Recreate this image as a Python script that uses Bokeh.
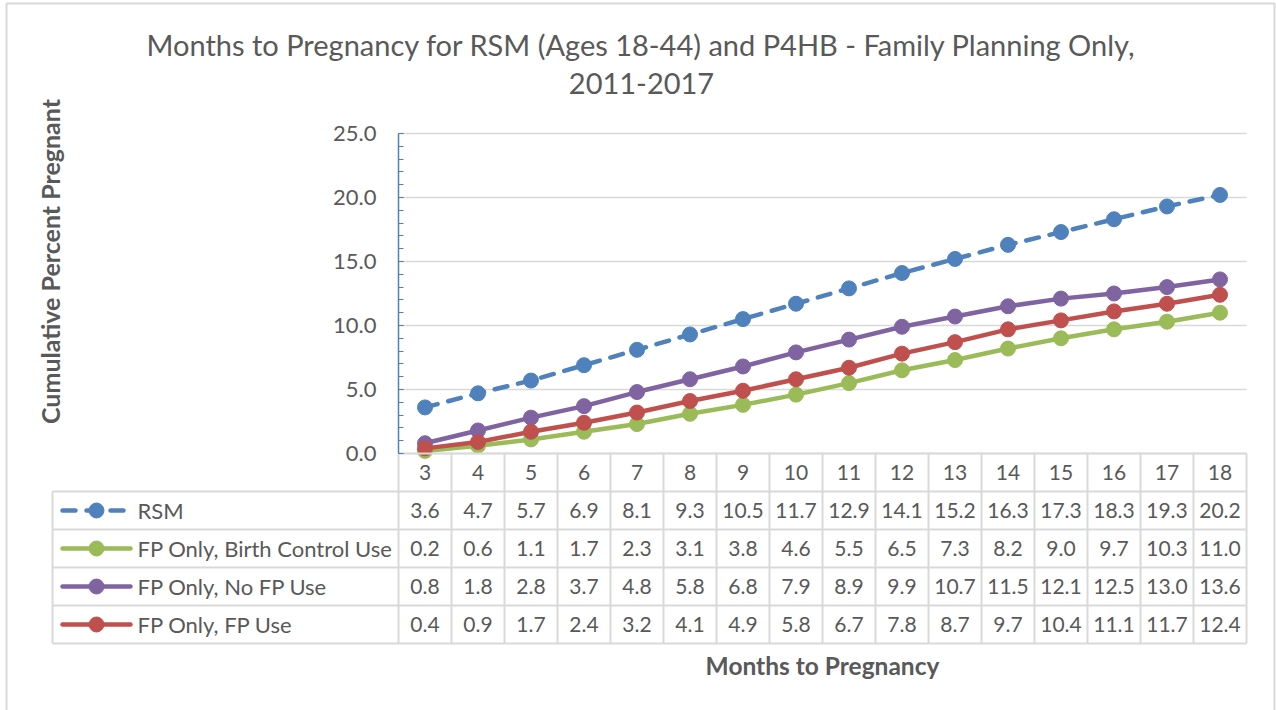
import numpy as np
from bokeh.plotting import figure
from bokeh.models import Range1d, SingleIntervalTicker, NumeralTickFormatter, Label, ColumnDataSource, LinearAxis
from bokeh.embed import file_html
from bokeh.resources import INLINE
from bokeh.core.properties import value

# ---------------- data ----------------
months = [3, 4, 5, 6, 7, 8, 9, 10, 11, 12, 13, 14, 15, 16, 17, 18]
series_names = ["RSM", "FP Only, Birth Control Use", "FP Only, No FP Use", "FP Only, FP Use"]
rsm = [3.6, 4.7, 5.7, 6.9, 8.1, 9.3, 10.5, 11.7, 12.9, 14.1, 15.2, 16.3, 17.3, 18.3, 19.3, 20.2]
fp_birth_control = [0.2, 0.6, 1.1, 1.7, 2.3, 3.1, 3.8, 4.6, 5.5, 6.5, 7.3, 8.2, 9.0, 9.7, 10.3, 11.0]
fp_no_fp_use = [0.8, 1.8, 2.8, 3.7, 4.8, 5.8, 6.8, 7.9, 8.9, 9.9, 10.7, 11.5, 12.1, 12.5, 13.0, 13.6]
fp_fp_use = [0.4, 0.9, 1.7, 2.4, 3.2, 4.1, 4.9, 5.8, 6.7, 7.8, 8.7, 9.7, 10.4, 11.1, 11.7, 12.4]
series_values = [rsm, fp_birth_control, fp_no_fp_use, fp_fp_use]
series_colors = ["#4f81bd", "#9bbb59", "#8064a2", "#c0504d"]
series_dashes = ["13 11", "solid", "solid", "solid"]
title_lines = ["Months to Pregnancy for RSM (Ages 18-44) and P4HB - Family Planning Only,", "2011-2017"]
y_title = "Cumulative Percent Pregnant"
x_title = "Months to Pregnancy"
y_ticks = [0, 5, 10, 15, 20, 25]

# ---------------- style / layout ----------------
FONT = "Lato"
TEXT = "#595959"
GRID = "#d9d9d9"
AXIS_BLUE = "#4f81bd"

W, H = 1276, 710
PLOT_L, PLOT_R, PLOT_T, PLOT_B = 398, 1246, 133, 453   # plot area in canvas px
TABLE_L = 52
ROW_PX = 38

n = len(months)
x_lo, x_hi = months[0] - 0.5, months[-1] + 0.5
y_min, y_max = y_ticks[0], y_ticks[-1]
px_per_x = (PLOT_R - PLOT_L) / (x_hi - x_lo)
px_per_y = (PLOT_B - PLOT_T) / (y_max - y_min)

def X(px):
    return x_lo + (px - PLOT_L) / px_per_x

def Y(py):
    return y_min + (PLOT_B - py) / px_per_y

n_rows = 1 + len(series_names)

p = figure(width=W, height=H,
           x_range=Range1d(X(0), X(W)), y_range=Range1d(Y(H), Y(0)),
           x_axis_location=None, y_axis_location=None, toolbar_location=None,
           output_backend="svg", min_border=0)
p.extra_y_ranges = {"table": Range1d((H - PLOT_B) / ROW_PX, -PLOT_B / ROW_PX)}
p.outline_line_color = None
p.grid.visible = False
p.background_fill_color = "white"
p.border_fill_color = "white"

# outer chart border
p.multi_line(xs=[[X(6), X(6), X(1274), X(1274)]], ys=[[Y(H + 5), Y(3), Y(3), Y(H + 5)]],
             line_color=GRID, line_width=2)

# horizontal gridlines
p.segment(x0=[x_lo] * len(y_ticks), y0=y_ticks, x1=[x_hi] * len(y_ticks), y1=y_ticks,
          line_color=GRID, line_width=1.5)

# y axis
ax = LinearAxis(fixed_location=x_lo, bounds=(y_min, y_max))
ax.ticker = SingleIntervalTicker(interval=5, num_minor_ticks=5)
ax.formatter = NumeralTickFormatter(format="0.0")
ax.axis_line_color = AXIS_BLUE
ax.axis_line_width = 1.5
ax.major_tick_line_color = AXIS_BLUE
ax.minor_tick_line_color = AXIS_BLUE
ax.major_tick_in = 5
ax.major_tick_out = 0
ax.minor_tick_in = 5
ax.minor_tick_out = 0
ax.major_label_text_font = FONT
ax.major_label_text_font_size = "22px"
ax.major_label_text_color = TEXT
ax.major_label_standoff = 22
p.add_layout(ax, "left")

# series
for name, vals, col, dash in zip(series_names, series_values, series_colors, series_dashes):
    src = ColumnDataSource(dict(x=months, y=vals))
    p.line("x", "y", source=src, line_color=col, line_width=4.5, line_dash=dash,
           line_cap="round", line_join="round")
    p.scatter("x", "y", source=src, size=15, fill_color=col, line_color=col)

# titles
for txt, py in zip(title_lines, [44, 83]):
    p.add_layout(Label(x=X(641), y=Y(py), text=txt, text_align="center", text_baseline="middle",
                       text_font=FONT, text_font_size="29px", text_color=TEXT))
p.add_layout(Label(x=X(49), y=Y(261), text=y_title, angle=np.pi / 2, text_align="center",
                   text_baseline="middle", text_font=FONT, text_font_size="25px",
                   text_font_style="bold", text_color=TEXT))
p.add_layout(Label(x=(months[0] + months[-1]) / 2, y=Y(665), text=x_title, text_align="center",
                   text_baseline="middle", text_font=FONT, text_font_size="24.5px",
                   text_font_style="bold", text_color=TEXT))

# ---------------- data table ----------------
tl = X(TABLE_L)
bounds = [m - 0.5 for m in months] + [x_hi]
p.segment(x0=bounds, y0=[0] * len(bounds), x1=bounds, y1=[n_rows] * len(bounds),
          line_color=GRID, line_width=2, y_range_name="table")
p.segment(x0=[tl], y0=[1], x1=[tl], y1=[n_rows], line_color=GRID, line_width=2, y_range_name="table")
hy = list(range(1, n_rows + 1))
p.segment(x0=[tl] * len(hy), y0=hy, x1=[x_hi] * len(hy), y1=hy, line_color=GRID, line_width=2,
          y_range_name="table")
p.segment(x0=[x_lo], y0=[y_min], x1=[x_hi], y1=[y_min], line_color=GRID, line_width=2)

# header row: category labels
p.text(x=months, y=[0.5] * n, text=[str(m) for m in months], text_align="center",
       text_baseline="middle", text_font=value(FONT), text_font_size="21px", text_color=TEXT,
       y_range_name="table")

for r, (name, vals, col, dash) in enumerate(zip(series_names, series_values, series_colors, series_dashes), start=1):
    p.text(x=months, y=[r + 0.5] * n, text=[f"{v:.1f}" for v in vals], text_align="center",
           text_baseline="middle", text_font=value(FONT), text_font_size="21px", text_color=TEXT,
           y_range_name="table")
    p.segment(x0=[X(62)], y0=[r + 0.5], x1=[X(130)], y1=[r + 0.5], line_color=col, line_width=4.5,
              line_dash=dash, line_cap="round", y_range_name="table")
    p.scatter(x=[X(96)], y=[r + 0.5], size=15, fill_color=col, line_color=col, y_range_name="table")
    p.text(x=[X(137)], y=[r + 0.5], text=[name], text_align="left", text_baseline="middle",
           text_font=value(FONT), text_font_size="22px", text_color=TEXT, y_range_name="table")

open("out.html", "w").write(file_html(p, INLINE))
